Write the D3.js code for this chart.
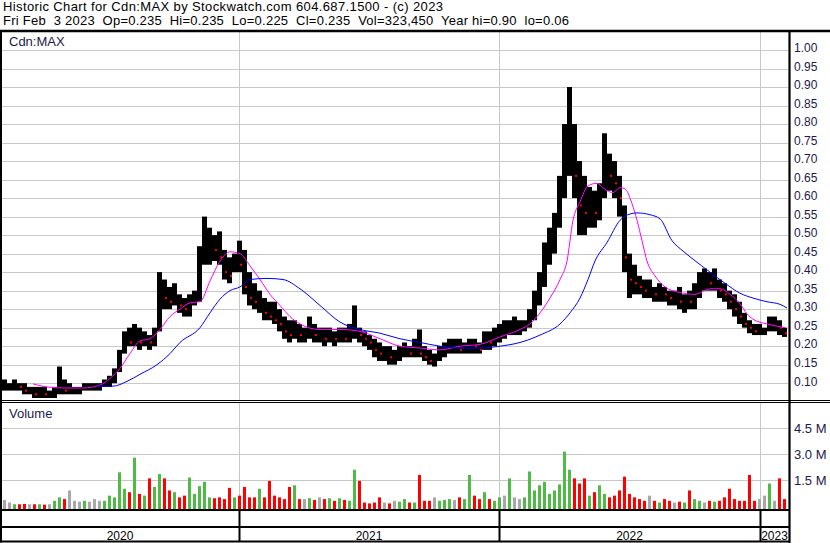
<!DOCTYPE html>
<html>
<head>
<meta charset="utf-8">
<script src="https://cdn.jsdelivr.net/npm/d3@7"></script>
<style>
body { margin: 0; background: #fff; }
svg { display: block; font-family: "Liberation Sans", Arial, sans-serif; }
</style>
</head>
<body>
<script>
// weekly bars, one per 5 weekdays, starting Feb 4 2020
var priceHi = [0.11,0.10,0.11,0.10,0.10,0.09,0.09,0.09,0.09,0.08,
  0.09,0.145,0.11,0.10,0.09,0.09,0.10,0.10,0.10,0.10,
  0.11,0.12,0.14,0.19,0.24,0.25,0.26,0.25,0.24,0.23,
  0.25,0.40,0.38,0.36,0.37,0.34,0.33,0.34,0.35,0.47,
  0.55,0.52,0.50,0.51,0.46,0.44,0.45,0.485,0.46,0.40,
  0.37,0.35,0.33,0.32,0.32,0.30,0.28,0.27,0.27,0.26,
  0.25,0.28,0.26,0.25,0.25,0.25,0.24,0.25,0.25,0.26,
  0.31,0.25,0.24,0.23,0.22,0.21,0.20,0.20,0.19,0.20,
  0.21,0.20,0.22,0.245,0.20,0.19,0.18,0.20,0.21,0.22,
  0.22,0.22,0.21,0.22,0.22,0.21,0.24,0.24,0.25,0.26,
  0.27,0.27,0.28,0.27,0.27,0.30,0.35,0.40,0.48,0.52,
  0.56,0.66,0.80,0.90,0.80,0.70,0.66,0.63,0.62,0.64,
  0.775,0.72,0.70,0.66,0.58,0.45,0.42,0.39,0.38,0.38,
  0.36,0.37,0.36,0.35,0.35,0.36,0.34,0.35,0.37,0.40,
  0.41,0.40,0.41,0.38,0.37,0.35,0.34,0.32,0.29,0.27,
  0.26,0.26,0.25,0.28,0.28,0.27,0.25];
var priceLo = [0.08,0.08,0.08,0.08,0.07,0.07,0.06,0.06,0.06,0.06,
  0.06,0.07,0.07,0.07,0.07,0.07,0.08,0.08,0.08,0.08,
  0.09,0.09,0.10,0.13,0.18,0.20,0.20,0.19,0.20,0.19,
  0.20,0.24,0.30,0.30,0.31,0.29,0.28,0.28,0.31,0.32,
  0.42,0.42,0.43,0.42,0.38,0.37,0.40,0.40,0.34,0.31,
  0.30,0.29,0.27,0.27,0.26,0.24,0.22,0.21,0.22,0.21,
  0.21,0.22,0.21,0.21,0.20,0.21,0.20,0.21,0.21,0.21,
  0.22,0.21,0.20,0.19,0.17,0.16,0.16,0.15,0.15,0.16,
  0.17,0.17,0.17,0.17,0.16,0.15,0.145,0.16,0.17,0.18,
  0.18,0.18,0.18,0.18,0.18,0.18,0.19,0.19,0.20,0.21,
  0.22,0.23,0.23,0.23,0.24,0.25,0.27,0.31,0.36,0.42,
  0.45,0.52,0.60,0.66,0.60,0.50,0.50,0.52,0.52,0.54,
  0.60,0.62,0.60,0.55,0.40,0.33,0.34,0.34,0.33,0.33,
  0.32,0.32,0.32,0.31,0.31,0.30,0.29,0.30,0.30,0.33,
  0.35,0.35,0.35,0.33,0.32,0.30,0.28,0.26,0.25,0.235,
  0.23,0.23,0.23,0.24,0.24,0.23,0.225];
var priceCl = [0.09,0.09,0.10,0.09,0.08,0.08,0.07,0.08,0.07,0.07,
  0.08,0.09,0.08,0.08,0.08,0.08,0.09,0.09,0.09,0.09,
  0.10,0.11,0.13,0.18,0.22,0.21,0.23,0.21,0.22,0.21,
  0.24,0.34,0.33,0.32,0.33,0.31,0.30,0.32,0.33,0.44,
  0.46,0.47,0.46,0.44,0.40,0.39,0.43,0.42,0.36,0.33,
  0.32,0.33,0.29,0.28,0.27,0.26,0.24,0.23,0.24,0.23,
  0.23,0.24,0.23,0.23,0.22,0.23,0.22,0.23,0.22,0.23,
  0.24,0.23,0.22,0.21,0.19,0.18,0.18,0.17,0.17,0.18,
  0.19,0.18,0.19,0.18,0.17,0.16,0.16,0.18,0.19,0.20,
  0.20,0.19,0.20,0.21,0.20,0.19,0.22,0.21,0.23,0.24,
  0.24,0.25,0.25,0.25,0.26,0.28,0.32,0.37,0.44,0.48,
  0.52,0.62,0.70,0.72,0.66,0.58,0.56,0.58,0.56,0.60,
  0.70,0.66,0.64,0.60,0.44,0.38,0.37,0.36,0.35,0.35,
  0.34,0.35,0.34,0.33,0.33,0.32,0.33,0.32,0.35,0.38,
  0.38,0.37,0.38,0.35,0.34,0.32,0.30,0.28,0.26,0.25,
  0.24,0.24,0.24,0.26,0.26,0.25,0.235];
// millions of shares (largest day of each week)
var volume = [0.35,0.2,0.1,0.1,0.12,0.1,0.1,0.1,0.08,0.1,
  0.3,0.5,0.4,0.9,0.3,0.25,0.3,0.25,0.4,0.3,
  0.3,0.6,0.5,1.95,1.0,0.8,2.8,0.7,0.6,1.6,
  1.1,1.85,1.6,0.9,0.8,0.5,0.6,1.65,0.7,1.15,
  1.4,0.5,0.45,0.5,0.4,1.05,0.5,0.6,1.1,0.5,
  0.5,1.0,0.5,1.45,0.6,0.5,0.4,1.1,1.2,0.4,
  0.4,0.45,0.35,0.5,0.4,0.45,0.3,0.45,0.35,0.3,
  2.1,1.45,0.2,0.15,0.2,0.5,0.2,0.15,0.3,0.25,
  0.4,0.2,0.2,1.8,0.3,0.3,0.5,0.3,0.35,0.4,
  0.35,0.5,0.4,1.8,0.6,0.4,0.8,0.4,0.3,0.5,
  0.6,1.6,0.5,0.4,0.5,2.0,0.9,1.2,1.4,0.7,
  0.9,1.25,3.15,2.1,1.6,1.3,1.6,0.6,0.8,1.2,
  0.7,0.5,0.6,0.9,1.7,0.7,0.5,0.4,0.3,0.6,
  0.3,0.2,0.4,0.3,0.2,0.25,0.2,0.9,0.4,0.3,
  0.2,0.3,0.25,0.3,0.5,1.0,0.4,0.3,0.3,1.8,
  0.3,0.4,0.6,1.3,0.3,1.6,0.4];

// moving averages (weekday index, price)
var maFastDay = [31,48,65,81,98,108,118,128,138,148,158,168,178,188,198,208,218,228,238,248,
  258,268,278,288,298,318,338,358,378,398,418,438,458,478,498,518,528,538,548,558,
  565,571,578,586,595,601,605,611,618,623,630,635,640,645,653,663,678,693,708,718,
  728,738,745,751,765,775,783];
var maFastVal = [0.098,0.089,0.087,0.087,0.095,0.113,0.14,0.18,0.214,0.22,0.245,0.28,0.30,0.317,0.32,0.376,0.43,0.455,0.45,0.417,
  0.38,0.34,0.31,0.28,0.26,0.245,0.245,0.24,0.22,0.20,0.195,0.19,0.20,0.205,0.225,0.245,0.26,0.29,0.33,0.38,
  0.43,0.54,0.59,0.633,0.64,0.628,0.62,0.615,0.628,0.625,0.585,0.54,0.485,0.43,0.39,0.36,0.345,0.34,0.355,0.355,
  0.34,0.315,0.287,0.273,0.26,0.254,0.25];
var maSlowDay = [95,111,125,138,155,168,178,198,208,218,228,238,248,265,281,298,318,338,358,378,
  398,418,438,458,478,498,518,538,558,568,578,586,593,605,618,628,635,648,658,670,
  681,691,708,723,738,751,765,778,785];
var maSlowVal = [0.092,0.092,0.105,0.124,0.15,0.18,0.21,0.25,0.29,0.327,0.35,0.36,0.38,0.383,0.38,0.355,0.31,0.265,0.245,0.235,
  0.22,0.21,0.20,0.195,0.195,0.20,0.21,0.23,0.26,0.29,0.33,0.38,0.43,0.48,0.54,0.557,0.56,0.555,0.544,0.485,
  0.457,0.435,0.40,0.37,0.343,0.33,0.32,0.313,0.303];

var priceTicks = [0.10,0.15,0.20,0.25,0.30,0.35,0.40,0.45,0.50,0.55,0.60,0.65,0.70,0.75,0.80,0.85,0.90,0.95,1.00];
var volTicks = [1.5, 3.0, 4.5];
var years = ["2020", "2021", "2022", "2023"];
var yearStartDay = [237, 497, 758];   // weekday index of Jan 1 of 2021..2023
var lastDay = 785;

var header1 = "Historic Chart for Cdn:MAX by Stockwatch.com 604.687.1500 - (c) 2023";
var header2 = "Fri Feb  3 2023  Op=0.235  Hi=0.235  Lo=0.225  Cl=0.235  Vol=323,450  Year hi=0.90  lo=0.06";

// Layout //////////////////////////////
var W = 830, H = 543;
var plotL = 1, plotR = 788;
var priceTop = 32, priceBot = 400.5;
var volTop = 403, volBot = 509;

var svg = d3.select("body").append("svg")
  .attr("width", W).attr("height", H);

svg.append("rect").attr("width", W).attr("height", H).attr("fill", "#fff");

var x = d3.scaleLinear().domain([0, lastDay]).range([2, 787]);
var yPrice = d3.scaleLinear().domain([0.05, 1.00]).range([401.7, 50]);
var yVol = d3.scaleLinear().domain([0, 4.5]).range([506, 428.3]);

var grid = "#c8c8c8";

// gridlines
svg.append("g").selectAll("line").data(priceTicks).enter().append("line")
  .attr("x1", plotL).attr("x2", plotR)
  .attr("y1", function(d){ return Math.round(yPrice(d)) + 0.5; })
  .attr("y2", function(d){ return Math.round(yPrice(d)) + 0.5; })
  .attr("stroke", grid);
svg.append("g").selectAll("line").data(volTicks).enter().append("line")
  .attr("x1", plotL).attr("x2", plotR)
  .attr("y1", function(d){ return Math.round(yVol(d)) + 0.5; })
  .attr("y2", function(d){ return Math.round(yVol(d)) + 0.5; })
  .attr("stroke", grid);
yearStartDay.forEach(function(d){
  var xx = Math.round(x(d)) + 0.5;
  svg.append("line").attr("x1", xx).attr("x2", xx).attr("y1", priceTop).attr("y2", priceBot).attr("stroke", grid);
  svg.append("line").attr("x1", xx).attr("x2", xx).attr("y1", volTop).attr("y2", volBot).attr("stroke", grid);
});

// price bars
var weeks = d3.range(priceHi.length);
svg.append("g").selectAll("rect").data(weeks).enter().append("rect")
  .attr("x", function(i){ return x(i * 5); })
  .attr("width", 5)
  .attr("y", function(i){ return yPrice(priceHi[i]); })
  .attr("height", function(i){ return Math.max(1, yPrice(priceLo[i]) - yPrice(priceHi[i])); })
  .attr("fill", "#000");

// red marks on down weeks
svg.append("g").selectAll("rect")
  .data(weeks.filter(function(i){ return i > 0 && priceCl[i] < priceCl[i-1]; }))
  .enter().append("rect")
  .attr("x", function(i){ return x(i * 5) + 3; })
  .attr("y", function(i){ return yPrice(priceCl[i]) - 1; })
  .attr("width", 2).attr("height", 2)
  .attr("fill", "#ff0000");

// moving averages
var line = d3.line()
  .x(function(d){ return x(d[0]); })
  .y(function(d){ return yPrice(d[1]); })
  .curve(d3.curveMonotoneX);
svg.append("path").datum(d3.zip(maFastDay, maFastVal))
  .attr("d", line).attr("fill", "none").attr("stroke", "#ff00ff").attr("stroke-width", 1);
svg.append("path").datum(d3.zip(maSlowDay, maSlowVal))
  .attr("d", line).attr("fill", "none").attr("stroke", "#0000ff").attr("stroke-width", 1);

// volume bars
function volColor(i) {
  if (i == 0 || priceCl[i] == priceCl[i-1]) return "#a8a8a8";
  return priceCl[i] > priceCl[i-1] ? "#4fbb46" : "#ff0000";
}
svg.append("g").selectAll("rect").data(weeks).enter().append("rect")
  .attr("x", function(i){ return x(i * 5) + 1; })
  .attr("width", 3)
  .attr("y", function(i){ return yVol(volume[i]); })
  .attr("height", function(i){ return volBot - yVol(volume[i]); })
  .attr("fill", volColor);

// frame lines
function hline(y, x1, x2, w) {
  svg.append("line").attr("x1", x1).attr("x2", x2).attr("y1", y).attr("y2", y)
    .attr("stroke", "#000").attr("stroke-width", w);
}
function vline(xx, y1, y2, w) {
  svg.append("line").attr("x1", xx).attr("x2", xx).attr("y1", y1).attr("y2", y2)
    .attr("stroke", "#000").attr("stroke-width", w);
}
hline(31, 0, W, 2.5);
hline(400.5, 0, W, 1);
hline(402.5, 0, W, 1);
hline(510, 0, 790, 2);
hline(527, 0, 790, 2);
hline(541.5, 0, 790, 2);
vline(1, 30, 542.5, 2);
vline(789.5, 30, H, 2.2);
yearStartDay.forEach(function(d){
  vline(Math.round(x(d)) + 0.5, 510, 541.5, 2);
});

// right axes
var priceAxis = d3.axisRight(yPrice).tickValues(priceTicks)
  .tickFormat(d3.format(".2f")).tickSize(0).tickPadding(3);
var ga = svg.append("g").attr("transform", "translate(791,0)").call(priceAxis);
var volAxis = d3.axisRight(yVol).tickValues(volTicks)
  .tickFormat(function(d){ return d.toFixed(1) + " M"; }).tickSize(0).tickPadding(3);
var gv = svg.append("g").attr("transform", "translate(791,0)").call(volAxis);
[ga, gv].forEach(function(g){
  g.select(".domain").remove();
  g.selectAll("text").attr("font-size", 12)
    .attr("font-family", "Liberation Sans, Arial, sans-serif").attr("fill", "#1a1a4a");
});
ga.selectAll("text").attr("dy", "0.15em");
gv.selectAll("text").attr("font-size", 13).attr("dy", "0.36em");

// year labels centred in each segment
var bounds = [plotL].concat(yearStartDay.map(function(d){ return x(d); })).concat([plotR + 1]);
svg.append("g").selectAll("text").data(years).enter().append("text")
  .attr("x", function(d, i){ return (bounds[i] + bounds[i+1]) / 2; })
  .attr("y", 539.5)
  .attr("text-anchor", "middle")
  .attr("font-size", 12).attr("fill", "#000")
  .text(function(d){ return d; });

// texts
svg.append("text").attr("x", 3).attr("y", 11).attr("font-size", 13)
  .attr("textLength", 440).attr("lengthAdjust", "spacing").text(header1);
svg.append("text").attr("x", 3).attr("y", 25).attr("font-size", 13)
  .attr("textLength", 566).attr("lengthAdjust", "spacing")
  .style("white-space", "pre").text(header2);
svg.append("text").attr("x", 9).attr("y", 46).attr("font-size", 13).attr("fill", "#1a1a4a").text("Cdn:MAX");
svg.append("text").attr("x", 9).attr("y", 418).attr("font-size", 13).attr("fill", "#1a1a4a").text("Volume");
</script>
</body>
</html>
